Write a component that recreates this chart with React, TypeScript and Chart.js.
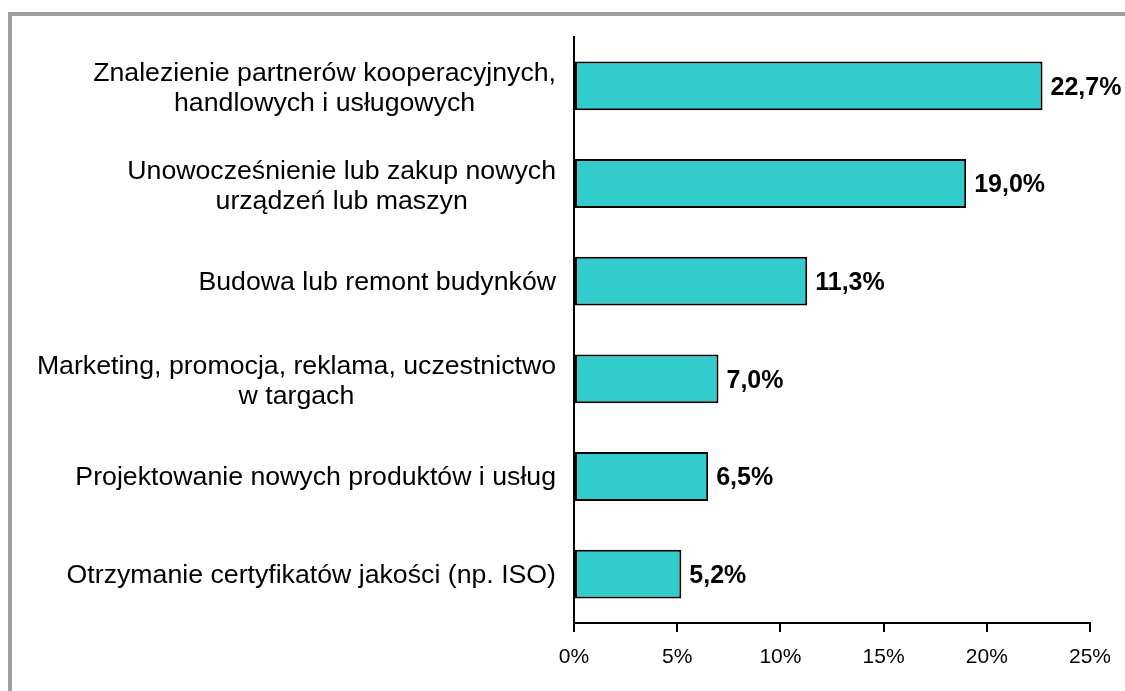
import React, { useEffect, useRef } from "react";
import { Chart, registerables } from "chart.js";

Chart.register(...registerables);

const categories: string[][] = [
  ["Znalezienie partnerów kooperacyjnych,", "handlowych i usługowych"],
  ["Unowocześnienie lub zakup nowych", "urządzeń lub maszyn"],
  ["Budowa lub remont budynków"],
  ["Marketing, promocja, reklama, uczestnictwo", "w targach"],
  ["Projektowanie nowych produktów i usług"],
  ["Otrzymanie certyfikatów jakości (np. ISO)"],
];
const values: number[] = [22.7, 19.0, 11.3, 7.0, 6.5, 5.2];
const xTicks: number[] = [0, 5, 10, 15, 20, 25];

const FONT = '"Liberation Sans", Arial, sans-serif';

const labelsPlugin = {
  id: "customLabels",
  afterDatasetsDraw(chart: any) {
    const ctx = chart.ctx as CanvasRenderingContext2D;
    const yScale = chart.scales.y;
    const xScale = chart.scales.x;
    ctx.save();
    ctx.font = `26.7px ${FONT}`;
    ctx.fillStyle = "#000";
    ctx.textBaseline = "middle";
    ctx.textAlign = "center";
    const rightEdge = yScale.right - 18;
    const lineH = 30;
    categories.forEach((lines, i) => {
      const yc = yScale.getPixelForValue(i) + (lines.length > 1 ? 3 : 1);
      const maxW = Math.max(...lines.map((l) => ctx.measureText(l).width));
      const cx = rightEdge - maxW / 2;
      lines.forEach((l, j) => {
        ctx.fillText(l, cx, yc + (j - (lines.length - 1) / 2) * lineH);
      });
    });
    ctx.font = `bold 25px ${FONT}`;
    ctx.textAlign = "left";
    values.forEach((v, i) => {
      const x = xScale.getPixelForValue(v) + 8;
      const y = yScale.getPixelForValue(i);
      ctx.fillText(v.toFixed(1).replace(".", ",") + "%", x, y + 2);
    });
    ctx.restore();
  },
};

export default function App() {
  const ref = useRef<HTMLCanvasElement | null>(null);
  useEffect(() => {
    if (!ref.current) return;
    const chart = new Chart(ref.current, {
      type: "bar",
      data: {
        labels: categories.map((c) => c.join(" ")),
        datasets: [
          {
            data: values,
            backgroundColor: "#33CCCC",
            borderColor: "#000000",
            borderWidth: 2,
            borderSkipped: false,
            categoryPercentage: 1,
            barPercentage: 0.5,
          },
        ],
      },
      options: {
        indexAxis: "y",
        animation: false,
        responsive: false,
        devicePixelRatio: 1,
        layout: { padding: { top: 37, right: 35, left: 0, bottom: 0 } },
        plugins: {
          legend: { display: false },
          tooltip: { enabled: false },
          title: { display: false },
        },
        scales: {
          y: {
            type: "category",
            grid: { display: false, drawTicks: false },
            border: { display: true, color: "#000", width: 2 },
            ticks: { display: false },
            afterFit: (scale: any) => {
              scale.width = 574;
            },
          },
          x: {
            type: "linear",
            min: 0,
            max: 25,
            afterBuildTicks: (scale: any) => {
              scale.ticks = xTicks.map((v) => ({ value: v }));
            },
            grid: {
              drawOnChartArea: false,
              drawTicks: true,
              tickLength: 9,
              color: "#000",
              lineWidth: 2,
            },
            border: { display: true, color: "#000", width: 2 },
            ticks: {
              color: "#000",
              font: { family: FONT, size: 21 },
              padding: 13,
              maxRotation: 0,
              callback: (v: any) => `${v}%`,
            },
            afterFit: (scale: any) => {
              scale.height = 68;
            },
          },
        },
      },
      plugins: [labelsPlugin],
    });
    return () => chart.destroy();
  }, []);

  return (
    <div
      style={{
        position: "fixed",
        left: 0,
        top: 0,
        width: 1125,
        height: 691,
        overflow: "hidden",
        background: "#fff",
      }}
    >
      <div
        style={{
          position: "absolute",
          left: 8,
          top: 12,
          width: 1200,
          height: 800,
          border: "4px solid #a0a0a0",
          boxSizing: "border-box",
        }}
      />
      <canvas
        ref={ref}
        width={1125}
        height={691}
        style={{ position: "absolute", left: 0, top: 0, width: 1125, height: 691 }}
      />
    </div>
  );
}
